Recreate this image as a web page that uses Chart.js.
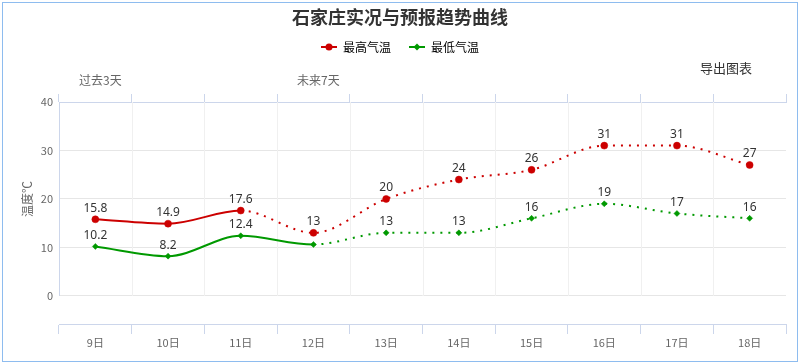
<!DOCTYPE html>
<html>
<head>
<meta charset="utf-8">
<script src="https://cdn.jsdelivr.net/npm/chart.js@4/dist/chart.umd.min.js"></script>
<style>
  body { margin: 0; background: #fff; }
  #wrap { position: relative; width: 800px; height: 364px; }
  #frame { position: absolute; left: 2px; top: 2px; width: 794px; height: 358px; border: 1px solid #8ebcef; pointer-events: none; }
  #export { position: absolute; left: 700px; top: 58px; font: 13px "Noto Sans CJK SC", sans-serif; color: #333; }
</style>
</head>
<body>
<div id="wrap">
  <canvas id="tempChart" width="800" height="364"></canvas>
  <div id="frame"></div>
  <div id="export">导出图表</div>
</div>
<script>
// chart data
const days = ['9日', '10日', '11日', '12日', '13日', '14日', '15日', '16日', '17日', '18日'];
const highTemps = [15.8, 14.9, 17.6, 13, 20, 24, 26, 31, 31, 27];
const lowTemps = [10.2, 8.2, 12.4, 10.6, 13, 13, 16, 19, 17, 16];
const yTicks = [0, 10, 20, 30, 40];
const bandNames = ['过去3天', '未来7天'];
const bandStarts = [0, 3];
const highForecastFrom = 2; // dotted after this index
const lowForecastFrom = 3;
const lowLabelHidden = [3];

const RED = '#cc0000';
const GREEN = '#009900';
const AXIS = '#ccd6eb';

Chart.defaults.font.family = '"Noto Sans CJK SC", "Noto Sans", sans-serif';
Chart.defaults.color = '#666';

// little legend symbols: line with marker
function legendIcon(color, diamond) {
  const c = document.createElement('canvas');
  c.width = 16; c.height = 10;
  const g = c.getContext('2d');
  g.strokeStyle = color; g.fillStyle = color; g.lineWidth = 2;
  g.beginPath(); g.moveTo(0, 5); g.lineTo(16, 5); g.stroke();
  g.beginPath();
  if (diamond) { g.moveTo(8, 1.5); g.lineTo(11.5, 5); g.lineTo(8, 8.5); g.lineTo(4.5, 5); g.closePath(); }
  else g.arc(8, 5, 3.5, 0, Math.PI * 2);
  g.fill();
  return c;
}

function boundary(xs, i) {
  // pixel of the left edge of category i
  const w = xs.getPixelForValue(1) - xs.getPixelForValue(0);
  return xs.getPixelForValue(i) - w / 2;
}

const extrasPlugin = {
  id: 'extras',
  beforeDatasetsDraw(chart) {
    const { ctx, chartArea } = chart;
    const xs = chart.scales.x, ys = chart.scales.y;
    const top = ys.getPixelForValue(40), zero = ys.getPixelForValue(0);
    ctx.save();
    ctx.lineWidth = 1;
    ctx.strokeStyle = '#f0f0f0';
    for (let i = 1; i < days.length; i++) {
      const x = Math.round(boundary(xs, i)) + 0.5;
      ctx.beginPath(); ctx.moveTo(x, top); ctx.lineTo(x, zero); ctx.stroke();
    }
    ctx.strokeStyle = AXIS;
    const lx = Math.round(chartArea.left) + 0.5;
    ctx.beginPath(); ctx.moveTo(lx, top); ctx.lineTo(lx, zero); ctx.stroke();

    // band labels above the plot
    ctx.fillStyle = '#666';
    ctx.font = '12px "Noto Sans CJK SC", sans-serif';
    ctx.textBaseline = 'middle';
    ctx.textAlign = 'left';
    bandNames.forEach((name, i) => {
      ctx.fillText(name, boundary(xs, bandStarts[i]) + 20, chartArea.top - 22);
    });

    // y axis title
    ctx.translate(27, (top + zero) / 2);
    ctx.rotate(-Math.PI / 2);
    ctx.textAlign = 'center';
    ctx.fillText('温度℃', 0, 0);
    ctx.restore();
  },
  afterDatasetsDraw(chart) {
    const { ctx } = chart;
    ctx.save();
    ctx.font = '12px "Noto Sans", sans-serif';
    ctx.fillStyle = '#333';
    ctx.textAlign = 'center';
    ctx.textBaseline = 'bottom';
    chart.data.datasets.forEach((ds, di) => {
      chart.getDatasetMeta(di).data.forEach((pt, i) => {
        if (di === 1 && lowLabelHidden.includes(i)) return;
        ctx.fillText(String(ds.data[i]), pt.x, pt.y - 5);
      });
    });
    ctx.restore();
  }
};

new Chart(document.getElementById('tempChart'), {
  type: 'line',
  data: {
    labels: days,
    datasets: [{
      label: '最高气温',
      data: highTemps,
      borderColor: RED,
      backgroundColor: RED,
      borderWidth: 2,
      pointRadius: 3.5,
      pointHoverRadius: 3.5,
      pointBorderWidth: 0.5,
      pointStyle: 'circle',
      cubicInterpolationMode: 'monotone',
      segment: { borderDash: c => c.p0DataIndex >= highForecastFrom ? [2, 6] : undefined }
    }, {
      label: '最低气温',
      data: lowTemps,
      borderColor: GREEN,
      backgroundColor: GREEN,
      borderWidth: 2,
      pointRadius: 3,
      pointHoverRadius: 3,
      pointBorderWidth: 0.5,
      pointStyle: 'rectRot',
      cubicInterpolationMode: 'monotone',
      segment: { borderDash: c => c.p0DataIndex >= lowForecastFrom ? [2, 6] : undefined }
    }]
  },
  options: {
    responsive: false,
    animation: false,
    layout: { padding: { left: 14, right: 14, top: 0, bottom: 0 } },
    plugins: {
      title: {
        display: true,
        text: '石家庄实况与预报趋势曲线',
        color: '#333',
        font: { size: 18, weight: 'bold', lineHeight: 1.2 },
        padding: { top: 6, bottom: -4.6 }
      },
      legend: {
        labels: {
          usePointStyle: true,
          pointStyleWidth: 16,
          padding: 18,
          color: '#333',
          font: { size: 12 },
          generateLabels(chart) {
            return chart.data.datasets.map((ds, i) => ({
              text: ds.label,
              pointStyle: legendIcon(ds.borderColor, i === 1),
              fillStyle: ds.borderColor,
              strokeStyle: ds.borderColor,
              lineWidth: 0,
              datasetIndex: i
            }));
          }
        }
      },
      tooltip: { enabled: false }
    },
    scales: {
      x: {
        type: 'category',
        position: 'bottom',
        offset: true,
        grid: { offset: true, drawOnChartArea: false, tickLength: 10, color: AXIS },
        border: { color: AXIS },
        ticks: { padding: 2, color: '#666', font: { size: 11 } },
        afterFit: s => { s.height = 40; }
      },
      xTop: {
        type: 'category',
        position: 'top',
        offset: true,
        grid: { offset: true, drawOnChartArea: false, tickLength: 8, color: AXIS },
        border: { color: AXIS },
        ticks: { display: false },
        afterFit: s => { s.height = 39; }
      },
      y: {
        min: -5.8,
        max: 40,
        afterBuildTicks: s => { s.ticks = yTicks.map(v => ({ value: v })); },
        grid: { color: '#e6e6e6', drawTicks: false },
        border: { display: false },
        ticks: { padding: 6, color: '#666', font: { size: 11 } },
        afterFit: s => { s.width = 45; }
      }
    }
  },
  plugins: [extrasPlugin]
});
</script>
</body>
</html>
